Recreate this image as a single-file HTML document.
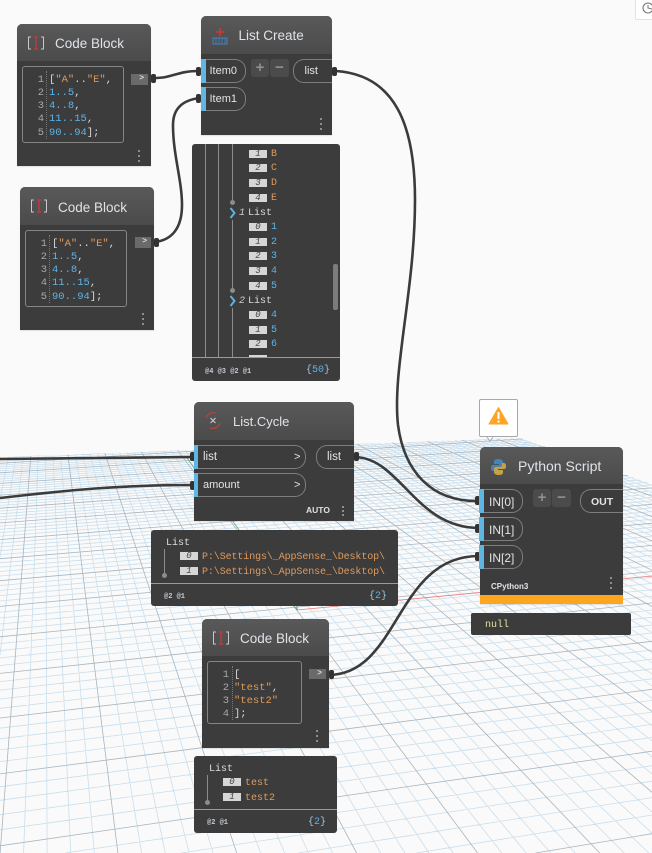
<!DOCTYPE html>
<html><head><meta charset="utf-8"><style>
html,body{margin:0;padding:0;background:#fafafa;overflow:hidden}
#p{position:relative;width:652px;height:853px;overflow:hidden;background:#fafafa;font-family:"Liberation Sans",sans-serif}
svg{position:absolute;left:0;top:0}
.n{position:absolute;background:#3c3c3c;border-radius:5px 5px 0 0;box-shadow:0 1px 1px rgba(0,0,0,.1)}
.h{position:absolute;left:0;top:0;right:0;background:linear-gradient(#595959,#4b4b4b);border-radius:5px 5px 0 0}
.ti{position:absolute;color:#dfe3e8;line-height:18px;white-space:pre;margin-top:1px}
.ca{position:absolute;border:1px solid #858585;border-radius:3px;box-sizing:border-box}
.m{position:absolute;font-family:"Liberation Mono",monospace;font-size:10.5px;line-height:13px;white-space:pre;color:#d8d8d8;margin-top:1.5px}
.o{color:#e09a5c}.b{color:#5cb4e8}
.ln{color:#a8a8a8}
.sep{position:absolute;border-left:1px dotted #777;width:0}
.ob{position:absolute;background:#6a6a6a;color:#ddd;font:bold 8px/10px "Liberation Mono",monospace;text-align:right;padding-right:4px;box-sizing:border-box}
.bar{position:absolute;width:5px;background:#5fb6e3}
.pi{position:absolute;border:1px solid #7e7e7e;border-left:none;border-radius:0 11px 11px 0;box-sizing:border-box}
.po{position:absolute;border:1px solid #7e7e7e;border-right:none;border-radius:11px 0 0 11px;box-sizing:border-box}
.pt{position:absolute;color:#e4e4e4;font-size:11px;line-height:14px;white-space:pre;margin-top:1px}
.pm{position:absolute;background:#4b4b4b;border-radius:3px;color:#8f8f8f;font:bold 15px/18px "Liberation Sans",sans-serif;text-align:center}
.d{position:absolute;width:2px;height:2px;background:#8e8e8e}
.w{position:absolute;background:#3c3c3c;border-radius:3px}
.tg{position:absolute;width:18px;height:8px;background:#d6d6d6;color:#444;font:italic 9px/8px "Liberation Mono",monospace;text-align:center}
.r{position:absolute;font-family:"Liberation Mono",monospace;font-size:10px;line-height:12px;white-space:pre;margin-top:2px}
.li{position:absolute;width:1px;background:#8c8c8c}
.dot{position:absolute;width:5px;height:5px;border-radius:50%;background:#8c8c8c}
.ft{position:absolute;left:0;right:0;height:1px;background:#9a9a9a}
.at{position:absolute;color:#c6ccd2;font:bold 7px/10px "Liberation Mono",monospace;white-space:pre;margin-top:2px}
</style></head><body><div id="p">

<svg width="652" height="853" viewBox="0 0 652 853" fill="none">
<defs><clipPath id="gc"><polygon points="0,457 520,438 652,484 652,853 0,853"/></clipPath></defs>
<g clip-path="url(#gc)">
<path id="gmin" stroke="#c9deec" stroke-width=".8"/>
<path id="gmaj" stroke="#a8b5bf" stroke-width=".8"/>
</g>
<path d="M187 458L297 610" stroke="#5fae6a" stroke-width=".8"/>
<path d="M297 610L652 576" stroke="#e87a7a" stroke-width=".8"/>
<path d="M297 610L297 604" stroke="#4a6fd0" stroke-width=".8"/>
<g stroke="#3b3b3b" stroke-width="2.6">
<path d="M153 78C175 78 175 71 200 71"/>
<path d="M155 242C172 240 182 228 182 205C182 180 173 155 173 125C173 108 183 100 200 98"/>
<path d="M336 71C395 75 415 125 415 200C415 290 392 370 398 425C404 470 430 502 479 501"/>
<path d="M354 457C400 457 415 528 479 528"/>
<path d="M328 675C400 675 395 556 479 556"/>
<path d="M0 459L193 457"/>
<path d="M0 498C70 490 120 485 193 485"/>
</g>
<g fill="#333">
<rect x="151" y="74" width="5" height="9" rx="2"/><rect x="196" y="67" width="5" height="9" rx="2"/><rect x="196" y="94" width="5" height="9" rx="2"/>
<rect x="154" y="238" width="5" height="9" rx="2"/><rect x="332" y="67" width="5" height="9" rx="2"/>
<rect x="190" y="452" width="5" height="9" rx="2"/><rect x="190" y="481" width="5" height="9" rx="2"/><rect x="354" y="452" width="5" height="9" rx="2"/>
<rect x="475" y="496" width="5" height="9" rx="2"/><rect x="475" y="524" width="5" height="9" rx="2"/><rect x="475" y="552" width="5" height="9" rx="2"/>
<rect x="329" y="670" width="5" height="9" rx="2"/>
</g>
</svg>
<script>
(function(){
var a=.8905,d=.03275,g=.0001915,b=.04959,e=.2997,h=.001102,c=99.5,f=706.3;
function P(u,v){var w=g*u+h*v+1;return [(a*u+b*v+c)/w,(d*u+e*v+f)/w];}
function seg(p,q){
  var t0=0,t1=1,dx=q[0]-p[0],dy=q[1]-p[1],P2=[-dx,dx,-dy,dy],Q=[p[0],652-p[0],p[1]-430,853-p[1]],i,r;
  for(i=0;i<4;i++){
    if(P2[i]===0){if(Q[i]<0)return "";}
    else{r=Q[i]/P2[i];if(P2[i]<0){if(r>t1)return "";if(r>t0)t0=r;}else{if(r<t0)return "";if(r<t1)t1=r;}}
  }
  return "M"+(p[0]+t0*dx).toFixed(1)+" "+(p[1]+t0*dy).toFixed(1)+"L"+(p[0]+t1*dx).toFixed(1)+" "+(p[1]+t1*dy).toFixed(1);
}
var mn="",mj="",i,s;
for(i=-400;i<=2400;i+=20){s=seg(P(i,-320),P(i,1500));if(i%100===0)mj+=s;else mn+=s;}
for(i=-320;i<=1500;i+=20){s=seg(P(-400,i),P(3000,i));if(i%100===0)mj+=s;else mn+=s;}
document.getElementById("gmin").setAttribute("d",mn);
document.getElementById("gmaj").setAttribute("d",mj);
})();
</script>

<!-- Code Block 1 -->
<div class="n" style="left:17px;top:24px;width:134px;height:142px">
<div class="h" style="height:37px"></div>
<svg width="20" height="16" style="left:10px;top:11px" fill="none"><path d="M4 2H1.500V14H4M14 2H16.500V14H14" stroke="#c8c8c8"/><path d="M7 2H11M7 14H11M9 2V14" stroke="#c0393b" stroke-width="1.400"/></svg>
<div class="ti" style="left:38px;top:10px;font-size:13.5px">Code Block</div>
<div class="ca" style="left:5px;top:42px;width:102px;height:77px"></div>
<div class="sep" style="left:29px;top:47px;height:68px"></div>
<div class="m ln" style="left:9px;top:48px;width:18px;text-align:right;line-height:13.3px">1
2
3
4
5</div>
<div class="m" style="left:32px;top:48px;line-height:13.3px">[<span class="o">"A"</span>..<span class="o">"E"</span>,
<span class="b">1..5</span>,
<span class="b">4..8</span>,
<span class="b">11..15</span>,
<span class="b">90..94</span>];</div>
<div class="ob" style="left:114px;top:50px;width:17px;height:11px">&gt;</div>
<div class="d" style="left:121px;top:126px"></div><div class="d" style="left:121px;top:131px"></div><div class="d" style="left:121px;top:136px"></div>
</div>

<!-- Code Block 2 -->
<div class="n" style="left:20px;top:187px;width:134px;height:143px">
<div class="h" style="height:38px"></div>
<svg width="20" height="16" style="left:10px;top:11px" fill="none"><path d="M4 2H1.500V14H4M14 2H16.500V14H14" stroke="#c8c8c8"/><path d="M7 2H11M7 14H11M9 2V14" stroke="#c0393b" stroke-width="1.400"/></svg>
<div class="ti" style="left:38px;top:11px;font-size:13.5px">Code Block</div>
<div class="ca" style="left:5px;top:43px;width:102px;height:77px"></div>
<div class="sep" style="left:29px;top:48px;height:68px"></div>
<div class="m ln" style="left:9px;top:49px;width:18px;text-align:right;line-height:13.3px">1
2
3
4
5</div>
<div class="m" style="left:32px;top:49px;line-height:13.3px">[<span class="o">"A"</span>..<span class="o">"E"</span>,
<span class="b">1..5</span>,
<span class="b">4..8</span>,
<span class="b">11..15</span>,
<span class="b">90..94</span>];</div>
<div class="ob" style="left:115px;top:50px;width:16px;height:11px">&gt;</div>
<div class="d" style="left:122px;top:126px"></div><div class="d" style="left:122px;top:131px"></div><div class="d" style="left:122px;top:136px"></div>
</div>

<!-- List Create -->
<div class="n" style="left:200.500px;top:16px;width:131.500px;height:119px">
<div class="h" style="height:38px"></div>
<svg width="20" height="22" style="left:11px;top:9px" fill="none"><path d="M8 3V11M4 7H12" stroke="#c8383a" stroke-width="1.800"/><rect x="1" y="13" width="14" height="6" stroke="#3f86c8"/><path d="M4 13V19M7 13V19M10 13V19M13 13V19" stroke="#3f86c8" stroke-width=".8"/></svg>
<div class="ti" style="left:38px;top:10px;font-size:13.5px">List Create</div>
<div class="bar" style="left:0;top:43px;height:24px"></div><div class="pi" style="left:5px;top:43px;width:40px;height:24px"></div>
<div class="pt" style="left:9px;top:47px">Item0</div>
<div class="bar" style="left:0;top:71px;height:24px"></div><div class="pi" style="left:5px;top:71px;width:40px;height:24px"></div>
<div class="pt" style="left:9px;top:75px">Item1</div>
<div class="pm" style="left:50.500px;top:43px;width:18px;height:18px">+</div>
<div class="pm" style="left:69.500px;top:43px;width:19px;height:18px">&#8722;</div>
<div class="po" style="left:92.500px;top:43px;width:39px;height:24px"></div>
<div class="pt" style="left:104px;top:47px">list</div>
<div class="d" style="left:119px;top:102px"></div><div class="d" style="left:119px;top:107px"></div><div class="d" style="left:119px;top:112px"></div>
</div>

<!-- Watch 1 -->
<div class="w" style="left:192px;top:144px;width:148px;height:237px;overflow:hidden">
<div class="li" style="left:13px;top:0;height:213px"></div>
<div class="li" style="left:26px;top:0;height:213px"></div>
<div class="li" style="left:40px;top:0;height:56px"></div>
<div class="dot" style="left:38px;top:56px"></div>
<div class="li" style="left:40px;top:76px;height:69px"></div>
<div class="dot" style="left:38px;top:144px"></div>
<div class="li" style="left:40px;top:164px;height:49px"></div>
<div style="position:absolute;left:0;top:0;width:148px;height:213px;overflow:hidden">
<div class="tg" style="left:57px;top:6px">1</div><div class="r o" style="left:79px;top:3px">B</div>
<div class="tg" style="left:57px;top:20px">2</div><div class="r o" style="left:79px;top:17px">C</div>
<div class="tg" style="left:57px;top:35px">3</div><div class="r o" style="left:79px;top:32px">D</div>
<div class="tg" style="left:57px;top:50px">4</div><div class="r o" style="left:79px;top:47px">E</div>
<svg width="8" height="12" style="left:37px;top:63px" fill="none"><path d="M1.500 1L5.500 6L1.500 11" stroke="#5cb0e2" stroke-width="2"/></svg>
<div class="r" style="left:47px;top:62px;color:#ccc;font-style:italic">1</div><div class="r" style="left:56px;top:62px;color:#ddd">List</div>
<div class="tg" style="left:57px;top:79px">0</div><div class="r b" style="left:79px;top:76px">1</div>
<div class="tg" style="left:57px;top:94px">1</div><div class="r b" style="left:79px;top:91px">2</div>
<div class="tg" style="left:57px;top:108px">2</div><div class="r b" style="left:79px;top:105px">3</div>
<div class="tg" style="left:57px;top:123px">3</div><div class="r b" style="left:79px;top:120px">4</div>
<div class="tg" style="left:57px;top:138px">4</div><div class="r b" style="left:79px;top:135px">5</div>
<svg width="8" height="12" style="left:37px;top:151px" fill="none"><path d="M1.500 1L5.500 6L1.500 11" stroke="#5cb0e2" stroke-width="2"/></svg>
<div class="r" style="left:47px;top:150px;color:#ccc;font-style:italic">2</div><div class="r" style="left:56px;top:150px;color:#ddd">List</div>
<div class="tg" style="left:57px;top:167px">0</div><div class="r b" style="left:79px;top:164px">4</div>
<div class="tg" style="left:57px;top:182px">1</div><div class="r b" style="left:79px;top:179px">5</div>
<div class="tg" style="left:57px;top:196px">2</div><div class="r b" style="left:79px;top:193px">6</div>
<div class="tg" style="left:57px;top:211px"></div>
</div>
<div style="position:absolute;left:141px;top:120px;width:5px;height:46px;background:#7c7c7c;border-radius:2px"></div>
<div class="ft" style="top:213px"></div>
<div class="at" style="left:13px;top:221px">@4 @3 @2 @1</div>
<div class="r" style="left:114px;top:219px;color:#9fc4d8;font-size:10px">{<span class="b">50</span>}</div>
</div>

<!-- List.Cycle -->
<div class="n" style="left:194px;top:402px;width:160px;height:119px">
<div class="h" style="height:38px"></div>
<svg width="20" height="22" style="left:9px;top:8px" fill="none"><path d="M3 8A8 8 0 0 1 13 3M17 13A8 8 0 0 1 7 18" stroke="#a8453f" stroke-width="1.500"/><path d="M7.500 8L12.500 13M12.500 8L7.500 13" stroke="#cfcfcf"/></svg>
<div class="ti" style="left:39px;top:10px;font-size:13px">List.Cycle</div>
<div class="bar" style="left:0;top:43px;height:24px;width:4px"></div><div class="pi" style="left:4px;top:43px;width:108px;height:24px"></div>
<div class="pt" style="left:9px;top:47px;font-size:11.5px">list</div><div class="pt" style="left:100px;top:47px">&gt;</div>
<div class="bar" style="left:0;top:71px;height:24px;width:4px"></div><div class="pi" style="left:4px;top:71px;width:108px;height:24px"></div>
<div class="pt" style="left:9px;top:75px">amount</div><div class="pt" style="left:100px;top:75px">&gt;</div>
<div class="po" style="left:122px;top:43px;width:38px;height:24px"></div>
<div class="pt" style="left:133px;top:47px;font-size:11.5px">list</div>
<div class="at" style="left:112px;top:101px;font:bold 8.500px/10px 'Liberation Sans',sans-serif;color:#e0e0e0">AUTO</div>
<div class="d" style="left:148px;top:104px"></div><div class="d" style="left:148px;top:108px"></div><div class="d" style="left:148px;top:112px"></div>
</div>

<!-- Watch 2 -->
<div class="w" style="left:151px;top:530px;width:247px;height:76px">
<div class="r" style="left:15px;top:6px;color:#ddd">List</div>
<div class="li" style="left:13px;top:19px;height:26px"></div><div class="dot" style="left:11px;top:43px"></div>
<div class="tg" style="left:29px;top:22px">0</div><div class="r o" style="left:51px;top:20px;letter-spacing:-.1px">P:\Settings\_AppSense_\Desktop\</div>
<div class="tg" style="left:29px;top:37px">1</div><div class="r o" style="left:51px;top:35px;letter-spacing:-.1px">P:\Settings\_AppSense_\Desktop\</div>
<div class="ft" style="top:53px"></div>
<div class="at" style="left:13px;top:60px">@2 @1</div>
<div class="r" style="left:218px;top:59px;color:#9fc4d8">{<span class="b">2</span>}</div>
</div>

<!-- Warning -->
<div style="position:absolute;left:479px;top:399px;width:39px;height:38px;box-sizing:border-box;background:#fff;border:1px solid #a8a8a8;border-radius:2px"></div>
<svg width="40" height="46" style="left:479px;top:399px" fill="none"><path d="M19.500 8.500L29 25H10Z" fill="#ffa526" stroke="#ffa526" stroke-linejoin="round"/><path d="M19.500 13V20M19.500 21.500V23.500" stroke="#fff" stroke-width="2"/><path d="M8 38L11 42L14 38" stroke="#a8a8a8" fill="#fff"/></svg>

<!-- Python Script -->
<div class="n" style="left:480px;top:447px;width:143px;height:157px">
<div class="h" style="height:37px"></div>
<svg width="18" height="18" style="left:10px;top:11px"><path d="M8 1C4 1 4 3 4 4V6H9V7H3C1 7 1 9 1 10C1 12 2 13 3 13H5V11C5 9.500 6 9 7 9H11C12 9 13 8 13 7V4C13 2 11 1 8 1Z" fill="#4584b6"/><path d="M9 17C13 17 13 15 13 14V12H8V11H14C16 11 16 9 16 8C16 6 15 5 14 5H12V7C12 8.500 11 9 10 9H6C5 9 4 10 4 11V14C4 16 6 17 9 17Z" fill="#c4a24a"/></svg>
<div class="ti" style="left:38px;top:9px;font-size:14px">Python Script</div>
<div class="bar" style="left:-1px;top:42px;height:24px"></div><div class="pi" style="left:4px;top:42px;width:39px;height:24px"></div>
<div class="pt" style="left:9px;top:47px;font-size:12px">IN[0]</div>
<div class="bar" style="left:-1px;top:70px;height:24px"></div><div class="pi" style="left:4px;top:70px;width:39px;height:24px"></div>
<div class="pt" style="left:9px;top:75px;font-size:12px">IN[1]</div>
<div class="bar" style="left:-1px;top:98px;height:24px"></div><div class="pi" style="left:4px;top:98px;width:39px;height:24px"></div>
<div class="pt" style="left:9px;top:103px;font-size:12px">IN[2]</div>
<div class="pm" style="left:53px;top:42px;width:18px;height:18px">+</div>
<div class="pm" style="left:72px;top:42px;width:19px;height:18px">&#8722;</div>
<div class="po" style="left:100px;top:42px;width:43px;height:24px"></div>
<div class="pt" style="left:111px;top:47px;font-size:10.500px;font-weight:bold">OUT</div>
<div class="at" style="left:11px;top:133px;font:bold 8px/10px 'Liberation Sans',sans-serif;color:#dfe3e8">CPython3</div>
<div class="d" style="left:130px;top:130px"></div><div class="d" style="left:130px;top:135px"></div><div class="d" style="left:130px;top:140px"></div>
<div style="position:absolute;left:0;top:148px;width:143px;height:9px;background:#fca61f"></div>
</div>

<div class="w" style="left:471px;top:613px;width:160px;height:22px;border-radius:2px">
<div class="r" style="left:14px;top:3.500px;color:#e6e29a;font-size:10px;margin-top:2px;line-height:14px">null</div>
</div>

<!-- Code Block 3 -->
<div class="n" style="left:202px;top:619px;width:127px;height:129px">
<div class="h" style="height:37px"></div>
<svg width="20" height="16" style="left:10px;top:11px" fill="none"><path d="M4 2H1.500V14H4M14 2H16.500V14H14" stroke="#c8c8c8"/><path d="M7 2H11M7 14H11M9 2V14" stroke="#c0393b" stroke-width="1.400"/></svg>
<div class="ti" style="left:38px;top:10px;font-size:13.5px">Code Block</div>
<div class="ca" style="left:5px;top:42px;width:95px;height:63px"></div>
<div class="sep" style="left:29.500px;top:47px;height:54px"></div>
<div class="m ln" style="left:9px;top:48px;width:18px;text-align:right;line-height:13.3px">1
2
3
4</div>
<div class="m" style="left:32px;top:48px;line-height:13.3px">[
<span class="o">"test"</span>,
<span class="o">"test2"</span>
];</div>
<div class="ob" style="left:107px;top:50px;width:17px;height:10px">&gt;</div>
<div class="d" style="left:114px;top:111px"></div><div class="d" style="left:114px;top:116px"></div><div class="d" style="left:114px;top:121px"></div>
</div>

<!-- Watch 3 -->
<div class="w" style="left:194px;top:756px;width:143px;height:77px">
<div class="r" style="left:15px;top:6px;color:#ddd">List</div>
<div class="li" style="left:13px;top:19px;height:26px"></div><div class="dot" style="left:11px;top:44px"></div>
<div class="tg" style="left:29px;top:22px">0</div><div class="r o" style="left:51px;top:20px">test</div>
<div class="tg" style="left:29px;top:37px">1</div><div class="r o" style="left:51px;top:35px">test2</div>
<div class="ft" style="top:53px"></div>
<div class="at" style="left:13px;top:60px">@2 @1</div>
<div class="r" style="left:114px;top:59px;color:#9fc4d8">{<span class="b">2</span>}</div>
</div>

<!-- Top-right tab -->
<div style="position:absolute;left:635px;top:0;width:17px;height:20px;background:#fff;border-left:1px solid #e2e2e2;border-bottom:1px solid #e2e2e2;border-radius:0 0 0 2px;box-sizing:border-box"></div>
<svg width="17" height="20" style="left:635px;top:0" fill="none"><circle cx="13" cy="8" r="5" stroke="#777" stroke-width="1.100"/><path d="M13 5V8L17 9" stroke="#777"/></svg>
</div></body></html>
